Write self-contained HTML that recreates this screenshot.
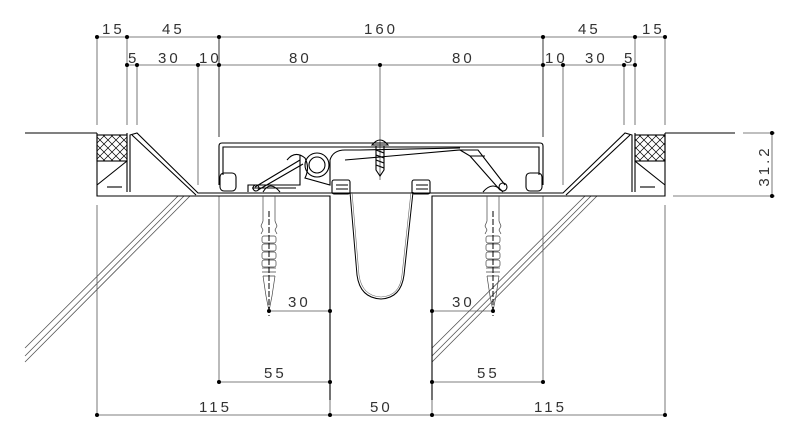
<!DOCTYPE html>
<html><head><meta charset="utf-8"><style>
html,body{margin:0;padding:0;background:#fff;}
svg{display:block;}
text{font-family:"Liberation Sans",sans-serif;font-size:15px;fill:#333;letter-spacing:3px;}
</style></head><body>
<svg width="800" height="443" viewBox="0 0 800 443" xmlns="http://www.w3.org/2000/svg">
<defs>
<pattern id="xh" width="8" height="8" patternUnits="userSpaceOnUse">
<path d="M0 0L8 8M8 0L0 8" stroke="#000" stroke-width="0.7"/>
</pattern>
<g id="anchor" fill="none" stroke="#444" stroke-width="0.7">
<path d="M-6 0 L-6 25 L-8 30 L-6 34 L-8 38 M6 0 L6 25 L8 30 L6 34 L8 38"/>
<rect x="-7" y="40" width="14" height="7" rx="2"/>
<rect x="-7" y="48" width="14" height="7" rx="2"/>
<rect x="-7" y="56" width="14" height="7" rx="2"/>
<rect x="-7" y="64" width="14" height="7" rx="2"/>
<path d="M-7 72 L7 72 M-7 76 L7 76 M-6 80 L6 80 M-6 80 L-3 100 L0 115 L3 100 L6 80"/>
<path d="M0 15 L0 120" stroke="#000" stroke-width="1" stroke-dasharray="6 2"/>
</g>
</defs>
<g fill="none" stroke="#555" stroke-width="0.8">
<!-- top dim lines -->
<line x1="97" y1="37" x2="665" y2="37"/>
<line x1="127" y1="65" x2="635" y2="65"/>
<!-- extension lines -->
<line x1="97" y1="37" x2="97" y2="125"/>
<line x1="127" y1="37" x2="127" y2="125"/>
<line x1="137" y1="65" x2="137" y2="125"/>
<line x1="198" y1="65" x2="198" y2="185"/>
<line x1="219" y1="37" x2="219" y2="137" stroke="#000"/>
<line x1="380" y1="65" x2="380" y2="180"/>
<line x1="543" y1="37" x2="543" y2="137" stroke="#000"/>
<line x1="563" y1="65" x2="563" y2="185"/>
<line x1="624" y1="65" x2="624" y2="125"/>
<line x1="635" y1="37" x2="635" y2="125"/>
<line x1="665" y1="37" x2="665" y2="125"/>
<!-- right 31.2 dim -->
<line x1="743" y1="133" x2="775" y2="133"/>
<line x1="673" y1="196" x2="775" y2="196"/>
<line x1="772" y1="133" x2="772" y2="196"/>
<!-- bottom dims -->
<line x1="97" y1="415" x2="665" y2="415"/>
<line x1="97" y1="205" x2="97" y2="415"/>
<line x1="665" y1="205" x2="665" y2="415"/>
<line x1="219" y1="196" x2="219" y2="382"/>
<line x1="543" y1="196" x2="543" y2="382"/>
<line x1="219" y1="382" x2="330" y2="382"/>
<line x1="432" y1="382" x2="543" y2="382"/>
<line x1="269" y1="311" x2="330" y2="311"/>
<line x1="432" y1="311" x2="493" y2="311"/>
<line x1="330" y1="400" x2="330" y2="415"/>
<line x1="432" y1="400" x2="432" y2="415"/>
<!-- diagonal hatch lines -->
<path d="M25 348 L178 196 M25 356 L184 196 M25 362 L190 196"/>
<path d="M432 348 L585 196 M432 356 L591 196 M432 362 L597 196"/>
</g>
<!-- dots -->
<g fill="#000">
<circle cx="97" cy="37" r="2"/><circle cx="127" cy="37" r="2"/><circle cx="219" cy="37" r="2"/><circle cx="543" cy="37" r="2"/><circle cx="635" cy="37" r="2"/><circle cx="665" cy="37" r="2"/>
<circle cx="127" cy="65" r="2"/><circle cx="137" cy="65" r="2"/><circle cx="198" cy="65" r="2"/><circle cx="219" cy="65" r="2"/><circle cx="380" cy="65" r="2"/><circle cx="543" cy="65" r="2"/><circle cx="563" cy="65" r="2"/><circle cx="624" cy="65" r="2"/><circle cx="635" cy="65" r="2"/>
<circle cx="772" cy="133" r="2"/><circle cx="772" cy="196" r="2"/>
<circle cx="97" cy="415" r="2"/><circle cx="330" cy="415" r="2"/><circle cx="432" cy="415" r="2"/><circle cx="665" cy="415" r="2"/>
<circle cx="219" cy="382" r="2"/><circle cx="330" cy="382" r="2"/><circle cx="432" cy="382" r="2"/><circle cx="543" cy="382" r="2"/>
<circle cx="269" cy="311" r="2"/><circle cx="330" cy="311" r="2"/><circle cx="432" cy="311" r="2"/><circle cx="493" cy="311" r="2"/>
</g>
<!-- labels -->
<text x="102" y="34">15</text><text x="162" y="34">45</text><text x="364" y="34">160</text><text x="578" y="34">45</text><text x="642" y="34">15</text>
<text x="128" y="63">5</text><text x="158" y="63">30</text><text x="199" y="63">10</text><text x="289" y="63">80</text><text x="452" y="63">80</text><text x="545" y="63">10</text><text x="585" y="63">30</text><text x="624" y="63">5</text>
<text x="288" y="307">30</text><text x="452" y="307">30</text>
<text x="264" y="378">55</text><text x="477" y="378">55</text>
<text x="199" y="412">115</text><text x="370" y="412">50</text><text x="534" y="412">115</text>
<text transform="translate(769,166) rotate(-90)" text-anchor="middle">31.2</text>
<!-- structure -->
<g fill="none" stroke="#000" stroke-width="1.1">
<!-- floor lines -->
<path d="M25 133 L97 133 M665 133 L735 133"/>
<!-- left blockout -->
<rect x="97" y="135" width="30" height="26" fill="url(#xh)"/>
<path d="M97 133 L97 196 L330 196 L330 400"/>
<path d="M97 161 L127 161 M97 185 L127 161 M127 133 L127 192"/>
<path d="M130 192 L130 135 L137 133 L198 193 L219 193"/>
<path d="M132 135 L196 195"/>
<path d="M107 187 L122 187"/>
<!-- right blockout -->
<rect x="635" y="135" width="30" height="26" fill="url(#xh)"/>
<path d="M665 133 L665 196 L432 196 L432 400"/>
<path d="M635 161 L665 161 M665 185 L635 161 M635 133 L635 192"/>
<path d="M632 192 L632 135 L625 133 L563 193 L543 193"/>
<path d="M630 135 L566 195"/>
<path d="M640 187 L655 187"/>
<!-- cover plate -->
<path d="M219 185 L219 146 Q219 143 222 143 L540 143 Q543 143 543 146 L543 185"/>
<path d="M223 175 L223 147 L539 147 L539 175"/>
<path d="M219 193 L543 193"/>
<!-- gasket blocks -->
<rect x="220" y="173" width="16" height="18" rx="4"/>
<rect x="526" y="173" width="16" height="18" rx="4"/>
<!-- hinge mechanism left -->
<path d="M248 192 L248 185 L300 185 L300 155"/>
<path d="M252 188 L296 188"/>
<circle cx="317" cy="165" r="12"/>
<circle cx="317" cy="165" r="8"/>
<path d="M287 160 Q295 150 305 158 Q310 168 305 178 L330 185 L330 160 Q333 150 345 150 L360 150 L460 148"/>
<path d="M255 187 L300 160 M258 190 L303 164"/>
<circle cx="256" cy="188" r="3"/>
<path d="M263 192 Q270 180 280 192"/>
<path d="M345 160 L460 150 L470 156 L485 156"/>
<!-- right arm -->
<path d="M460 150 L478 150 L505 185 M470 156 L500 190"/>
<circle cx="503" cy="187" r="4"/>
<path d="M483 192 Q493 180 503 192"/>
<path d="M463 193 L520 193"/>
<!-- screw -->
<path d="M372 145 Q380 135 388 145 Z"/>
<path d="M376 146 L376 170 L380 176 L384 170 L384 146"/>
<path d="M376 150 L384 153 M376 155 L384 158 M376 160 L384 163 M376 165 L384 168"/>
<!-- bellows clamps -->
<rect x="332" y="180" width="18" height="14" rx="2"/>
<rect x="412" y="180" width="18" height="14" rx="2"/>
<path d="M336 185 L348 185 M336 189 L348 189 M416 185 L428 185 M416 189 L428 189"/>
<!-- bellows -->
<path d="M350 192 L357 275 Q360 298 381 299 Q401 298 404 275 L413 192" stroke-width="1"/>
<path d="M352 192 L359 275 Q362 296 381 297 Q400 296 402 275 L411 192" stroke-width="0.6" stroke="#666"/>
</g>
<use href="#anchor" x="269" y="196"/>
<use href="#anchor" x="493" y="196"/>
</svg>
</body></html>
